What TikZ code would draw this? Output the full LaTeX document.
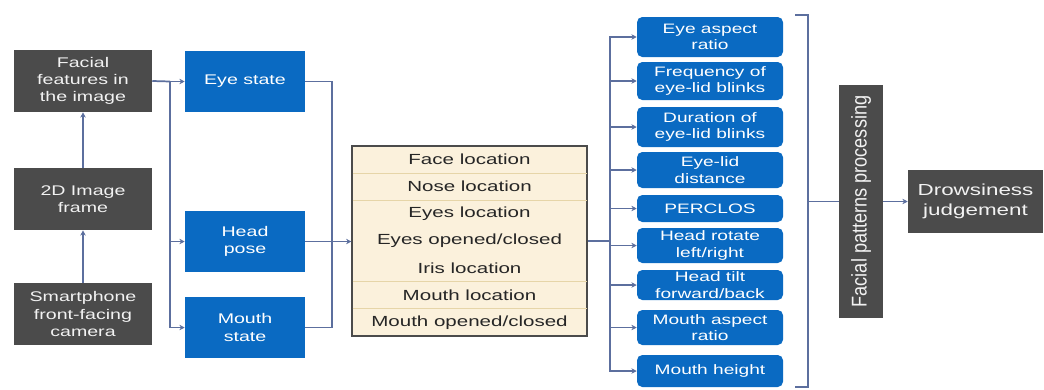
\documentclass[tikz,border=0pt]{standalone}
\usepackage{fontspec}
\setmainfont{Liberation Sans}[FakeStretch=1.4]
\newfontfamily\rotfont{Liberation Sans}[FakeStretch=0.85]
\usetikzlibrary{arrows.meta}
\definecolor{dgray}{HTML}{4B4B4B}
\definecolor{bblue}{HTML}{0A6AC2}
\definecolor{cream}{HTML}{FBF1DC}
\definecolor{sepc}{HTML}{E6D5A8}
\definecolor{lnk}{HTML}{5C6F9E}
\definecolor{txtg}{HTML}{F2F2F2}
\begin{document}
\begin{tikzpicture}[x=0.75pt,y=-0.75pt,
 gbox/.style={fill=dgray,text=txtg,inner sep=0pt,minimum width=103.5pt,minimum height=46.5pt,align=center,font=\fontsize{10.5}{13}\selectfont},
 bbox/.style={fill=bblue,text=white,inner sep=0pt,minimum width=90pt,minimum height=45.75pt,align=center,font=\fontsize{10.5}{13}\selectfont},
 rbox/.style={fill=bblue,text=white,inner sep=0pt,minimum width=109.5pt,rounded corners=4pt,align=center,font=\fontsize{10.25}{12.5}\selectfont},
 trow/.style={inner sep=0pt,text=black!85,font=\fontsize{11}{13}\selectfont},
 conn/.style={draw=lnk,line width=1.3pt},
 arr/.style={conn,-{Stealth[length=4pt,width=4pt]}}]
\useasboundingbox[fill=white] (0,0) rectangle (1044,389);

% left column
\node[gbox] (fac) at (83,81) {Facial\\features in\\the image};
\node[gbox] (frame) at (83,199) {2D Image\\frame};
\node[gbox] (cam) at (83,314) {Smartphone\\front-facing\\camera};
\draw[arr] (cam.north) -- (frame.south);
\draw[arr] (frame.north) -- (fac.south);

% blue states
\node[bbox] (eye) at (245,81.5) {Eye state};
\node[bbox] (head) at (245,241.5) {Head\\pose};
\node[bbox] (mouth) at (245,327.5) {Mouth\\state};
\coordinate (bL) at (170,81.5);
\draw[conn] (fac.east) -- (bL);
\draw[arr] (bL) -- (eye.west);
\draw[arr] (bL) |- (head.west);
\draw[arr] (bL) |- (mouth.west);

% table
\node[draw=dgray,line width=0.8pt,fill=cream,inner sep=0pt,minimum width=176.25pt,minimum height=142.5pt] (tbl) at (469.5,241) {};
\draw[sepc,line width=0.8pt] (352.5,173.1) -- (586.5,173.1);
\draw[sepc,line width=0.8pt] (352.5,200.3) -- (586.5,200.3);
\draw[sepc,line width=0.8pt] (352.5,281.7) -- (586.5,281.7);
\draw[sepc,line width=0.8pt] (352.5,308.9) -- (586.5,308.9);
\node[trow] (t1) at (469.5,159.6) {Face location};
\node[trow] (t2) at (469.5,186.7) {Nose location};
\node[trow] (t3) at (469.5,213.9) {Eyes location};
\node[trow] (t4) at (469.5,241.0) {Eyes opened/closed};
\node[trow] (t5) at (469.5,268.1) {Iris location};
\node[trow] (t6) at (469.5,295.3) {Mouth location};
\node[trow] (t7) at (469.5,322.4) {Mouth opened/closed};

\coordinate (bM) at (332,241.5);
\draw[conn] (eye.east) -| (bM);
\draw[conn] (mouth.east) -| (bM);
\draw[arr] (head.east) -- (head.east -| tbl.west);

% right measures
\node[rbox,minimum height=30pt] (r1) at (710,37) {Eye aspect\\ratio};
\node[rbox,minimum height=28.5pt] (r2) at (710,81) {Frequency of\\eye-lid blinks};
\node[rbox,minimum height=30pt] (r3) at (710,127) {Duration of\\eye-lid blinks};
\node[rbox,minimum height=27pt] (r4) at (710,170) {Eye-lid\\distance};
\node[rbox,minimum height=20.25pt] (r5) at (710,208.5) {PERCLOS};
\node[rbox,minimum height=26.25pt] (r6) at (710,245.5) {Head rotate\\left/right};
\node[rbox,minimum height=22.5pt] (r7) at (710,285) {Head tilt\\forward/back};
\node[rbox,minimum height=26.25pt] (r8) at (710,327.5) {Mouth aspect\\ratio};
\node[rbox,minimum height=24pt] (r9) at (710,371) {Mouth height};

\coordinate (bR) at (610,241);
\draw[conn] (tbl.east) -- (bR);
\foreach \i in {1,...,9} { \draw[arr] (bR) |- (r\i.west); }

% bracket
\coordinate (k1) at (795,15);
\coordinate (k2) at (808,15);
\coordinate (k3) at (808,387);
\coordinate (k4) at (795,387);
\coordinate (km) at (808,201.5);
\draw[conn] (k1) -- (k2) -- (k3) -- (k4);

\node[fill=dgray,text=txtg,inner sep=0pt,minimum width=33pt,minimum height=174.75pt] (fp) at (861,201.5) {\rotatebox{90}{\rotfont\fontsize{16}{18}\selectfont Facial patterns processing}};
\draw[conn] (km) -- (fp.west);

\node[fill=dgray,text=txtg,inner sep=0pt,minimum width=101.25pt,minimum height=47.25pt,align=center,font=\fontsize{12}{15}\selectfont] (drow) at (975.5,201.5) {Drowsiness\\judgement};
\draw[arr] (fp.east) -- (drow.west);
\end{tikzpicture}
\end{document}
